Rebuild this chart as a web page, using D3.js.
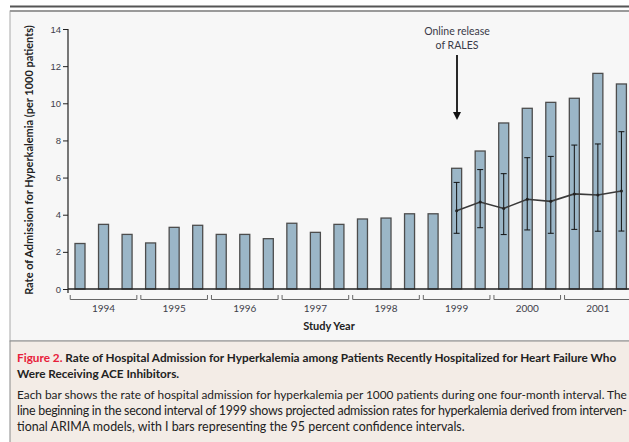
<!DOCTYPE html>
<html>
<head>
<meta charset="utf-8">
<title>Hyperkalemia admissions</title>
<script src="https://d3js.org/d3.v7.min.js"></script>
<style>
  body { margin: 0; background: #fff; }
  svg { display: block; font-family: Lato, "Noto Sans", sans-serif; }
</style>
</head>
<body>
<div id="chart"></div>
<script>
// four-month intervals, 1994 - 2001
var years = ["1994", "1995", "1996", "1997", "1998", "1999", "2000", "2001"];
var intervals = d3.range(24);
var rates = [2.45, 3.48, 2.94, 2.48, 3.32, 3.43, 2.94, 2.94, 2.71, 3.54, 3.05, 3.48,
             3.77, 3.82, 4.05, 4.05, 6.5, 7.43, 8.94, 9.73, 10.05, 10.27, 11.61, 11.04];
// ARIMA projection from 2nd interval of 1999
var projStart = 16;
var projected = [4.22, 4.68, 4.34, 4.83, 4.72, 5.12, 5.06, 5.28];
var ciLow = [3.0, 3.3, 2.93, 3.18, 3.0, 3.21, 3.11, 3.12];
var ciHigh = [5.74, 6.43, 6.21, 7.07, 7.14, 7.75, 7.81, 8.47];
var yTicks = [0, 2, 4, 6, 8, 10, 12, 14];

var W = 629, H = 442;
var svg = d3.select("#chart").append("svg").attr("width", W).attr("height", H);

// frame
svg.append("rect").attr("x", 10).attr("y", 11).attr("width", W).attr("height", 330)
   .attr("fill", "#f7f7f7").attr("stroke", "#a9a9a9").attr("stroke-width", 1);
svg.append("rect").attr("x", 10).attr("y", 341).attr("width", W).attr("height", 110)
   .attr("fill", "#f3ece6").attr("stroke", "#8a8a8a").attr("stroke-width", 1);
svg.append("line").attr("x1", 10).attr("x2", W).attr("y1", 6.5).attr("y2", 6.5)
   .attr("stroke", "#555").attr("stroke-width", 2);
svg.append("line").attr("x1", 10).attr("x2", W).attr("y1", 11).attr("y2", 11)
   .attr("stroke", "#9a9a9a").attr("stroke-width", 2);

var x = d3.scaleBand().domain(intervals).range([68, 633.4])
          .paddingInner(0.575).paddingOuter(0.297);
var y = d3.scaleLinear().domain([0, 14]).range([289, 29]);

var plot = svg.append("g");

// bars
plot.selectAll("rect.bar").data(rates).enter().append("rect")
    .attr("class", "bar")
    .attr("x", function(d, i) { return x(i); })
    .attr("y", function(d) { return y(d); })
    .attr("width", x.bandwidth())
    .attr("height", function(d) { return y(0) - y(d); })
    .attr("fill", "#9bb6c7")
    .attr("stroke", "#4d4d4d")
    .attr("stroke-width", 1.3);

// y axis
var yAxis = d3.axisLeft(y).tickValues(yTicks).tickSize(5).tickPadding(2);
var ya = svg.append("g").attr("transform", "translate(68,0)").call(yAxis);
ya.select(".domain").attr("stroke", "#222").attr("stroke-width", 1.2)
  .attr("d", "M-5,29.5H0V293");
ya.selectAll(".tick line").attr("stroke", "#222");
ya.selectAll(".tick text").attr("fill", "#3e3e4a").attr("font-size", 9.5);

// x baseline
svg.append("line").attr("x1", 68).attr("x2", W).attr("y1", y(0)).attr("y2", y(0))
   .attr("stroke", "#222").attr("stroke-width", 1.3);

// year brackets
var gap = (x.step() - x.bandwidth()) / 2 - 2;
var br = svg.append("g");
years.forEach(function(yr, k) {
  var x0 = x(k * 3) - gap, x1 = x(k * 3 + 2) + x.bandwidth() + gap;
  br.append("path")
    .attr("d", "M" + x0 + ",295V299.5H" + x1 + "V295")
    .attr("fill", "none").attr("stroke", "#666").attr("stroke-width", 1);
  br.append("text").attr("x", (x0 + x1) / 2).attr("y", 312)
    .attr("text-anchor", "middle").attr("font-size", 10).attr("fill", "#3e3e4a")
    .text(yr);
});

// projection, error bars
var pts = projected.map(function(v, j) {
  return { i: projStart + j, v: v, lo: ciLow[j], hi: ciHigh[j] };
});
var cx = function(d) { return x(d.i) + x.bandwidth() / 2; };
var eb = plot.append("g").attr("stroke", "#111").attr("stroke-width", 1);
pts.forEach(function(d) {
  eb.append("line").attr("x1", cx(d)).attr("x2", cx(d)).attr("y1", y(d.lo)).attr("y2", y(d.hi));
  eb.append("line").attr("x1", cx(d) - 3).attr("x2", cx(d) + 3).attr("y1", y(d.lo)).attr("y2", y(d.lo));
  eb.append("line").attr("x1", cx(d) - 3).attr("x2", cx(d) + 3).attr("y1", y(d.hi)).attr("y2", y(d.hi));
});
plot.append("path").datum(pts)
    .attr("d", d3.line().x(cx).y(function(d) { return y(d.v); }))
    .attr("fill", "none").attr("stroke", "#3a3a3a").attr("stroke-width", 1.6);
plot.selectAll("circle.pt").data(pts).enter().append("circle")
    .attr("cx", cx).attr("cy", function(d) { return y(d.v); }).attr("r", 1.5)
    .attr("fill", "#222");

// annotation
var ann = svg.append("g").attr("font-size", 10.5).attr("fill", "#3a3a48").attr("text-anchor", "middle");
ann.append("text").attr("x", 457).attr("y", 35).text("Online release");
ann.append("text").attr("x", 457).attr("y", 49).text("of RALES");
svg.append("line").attr("x1", 457).attr("x2", 457).attr("y1", 55).attr("y2", 113)
   .attr("stroke", "#111").attr("stroke-width", 1.8);
svg.append("path").attr("d", "M453,112L461,112L457,120Z").attr("fill", "#111");

// axis titles
svg.append("text").attr("x", 329).attr("y", 330).attr("text-anchor", "middle")
   .attr("font-size", 11).attr("font-weight", "bold").attr("fill", "#222").text("Study Year");
var yt = svg.append("text").attr("transform", "translate(33,160) rotate(-90)")
   .attr("text-anchor", "middle").attr("font-size", 10).attr("font-weight", "bold")
   .attr("fill", "#222").text("Rate of Admission for Hyperkalemia (per 1000 patients)");

// fit a text element to a width by adjusting font size
function fit(sel, w) {
  var fs = parseFloat(sel.attr("font-size"));
  var len = sel.node().getComputedTextLength();
  sel.attr("font-size", (fs * w / len).toFixed(2));
}
fit(yt, 270);

// caption
var cap = svg.append("g").attr("fill", "#222");
var t1 = cap.append("text").attr("x", 17).attr("y", 362).attr("font-size", 11).attr("font-weight", "bold");
t1.append("tspan").attr("fill", "#e8203a").text("Figure 2. ");
t1.append("tspan").text("Rate of Hospital Admission for Hyperkalemia among Patients Recently Hospitalized for Heart Failure Who");
fit(t1, 600);
var t2 = cap.append("text").attr("x", 17).attr("y", 378).attr("font-size", t1.attr("font-size"))
   .attr("font-weight", "bold").text("Were Receiving ACE Inhibitors.");

var body = [
  "Each bar shows the rate of hospital admission for hyperkalemia per 1000 patients during one four-month interval. The",
  "line beginning in the second interval of 1999 shows projected admission rates for hyperkalemia derived from interven-",
  "tional ARIMA models, with I bars representing the 95 percent confidence intervals."
];
var b3 = cap.append("text").attr("x", 17).attr("y", 431).attr("font-size", 10.5).text(body[2]);
fit(b3, 448);
var bfs = b3.attr("font-size");
var b1 = cap.append("text").attr("x", 17).attr("y", 399).attr("font-size", bfs).text(body[0]);
fit(b1, 610);
var b2 = cap.append("text").attr("x", 17).attr("y", 415).attr("font-size", bfs).text(body[1]);
b2.attr("textLength", 610).attr("lengthAdjust", "spacing");
</script>
</body>
</html>
